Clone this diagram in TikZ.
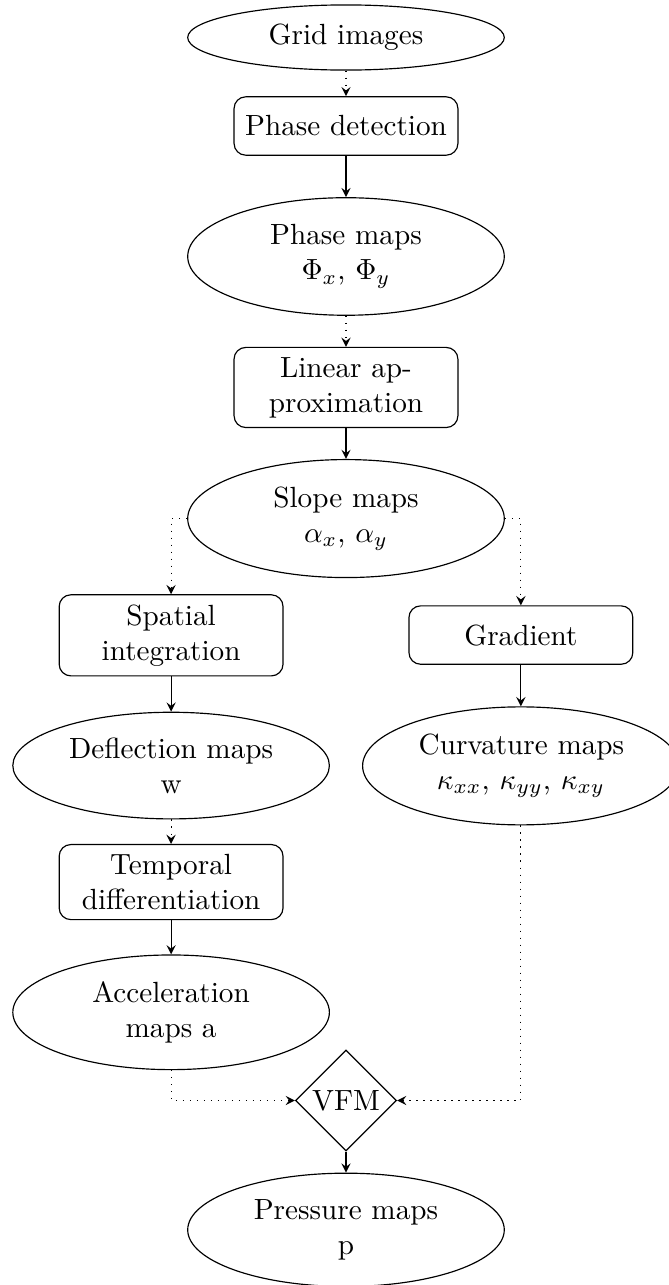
\documentclass[tikz,border=0pt]{standalone}
\usetikzlibrary{shapes.geometric}
\tikzset{
  boxnode/.style={draw, rectangle, rounded corners, text width=7em, align=center, minimum height=2em},
  ellnode/.style={draw, ellipse, text width=7em, align=center},
  decnode/.style={draw, diamond, aspect=1, inner sep=0pt, minimum width=34.6pt, minimum height=34.6pt},
  solidarrow/.style={draw, -stealth},
  dotarrow/.style={draw, dotted, -stealth}
}
\begin{document}
\begin{tikzpicture}[x=1pt,y=1pt]
\useasboundingbox (0,0) rectangle (228.8,-440.1);
\node[ellnode] (grid) at (118.5,-12.84) {Grid images};
\node[boxnode] (pd) at (118.5,-43.15) {Phase detection};
\node[ellnode] (pm) at (118.5,-87.84) {Phase maps\\ $\Phi_x$, $\Phi_y$};
\node[boxnode] (lin) at (118.5,-132.7) {Linear approximation};
\node[ellnode] (slope) at (118.5,-177.6) {Slope maps\\ $\alpha_x$, $\alpha_y$};
\node[boxnode] (spatial) at (58.6,-217.6) {Spatial integration};
\node[boxnode] (gradient) at (178.4,-217.5) {Gradient};
\node[ellnode] (defl) at (58.6,-262.2) {Deflection maps\\ w};
\node[ellnode] (curv) at (178.4,-262.3) {Curvature~maps\\ $\kappa_{xx}$, $\kappa_{yy}$, $\kappa_{xy}$};
\node[boxnode] (temp) at (58.6,-302.1) {Temporal differentiation};
\node[ellnode] (accel) at (58.6,-346.7) {Acceleration maps a};
\node[decnode] (vfm) at (118.5,-376.9) {VFM};
\node[ellnode] (press) at (118.5,-421.2) {Pressure maps\\ p};

\draw[dotarrow] (grid) -- (pd);
\draw[solidarrow] (pd) -- (pm);
\draw[dotarrow] (pm) -- (lin);
\draw[solidarrow] (lin) -- (slope);
\draw[dotarrow] (slope.west) -| (spatial.north);
\draw[dotarrow] (slope.east) -| (gradient.north);
\draw[solidarrow] (spatial) -- (defl);
\draw[solidarrow] (gradient) -- (curv);
\draw[dotarrow] (defl) -- (temp);
\draw[solidarrow] (temp) -- (accel);
\draw[dotarrow] (accel.south) |- (vfm.west);
\draw[dotarrow] (curv.south) |- (vfm.east);
\draw[solidarrow] (vfm) -- (press);
\end{tikzpicture}
\end{document}
